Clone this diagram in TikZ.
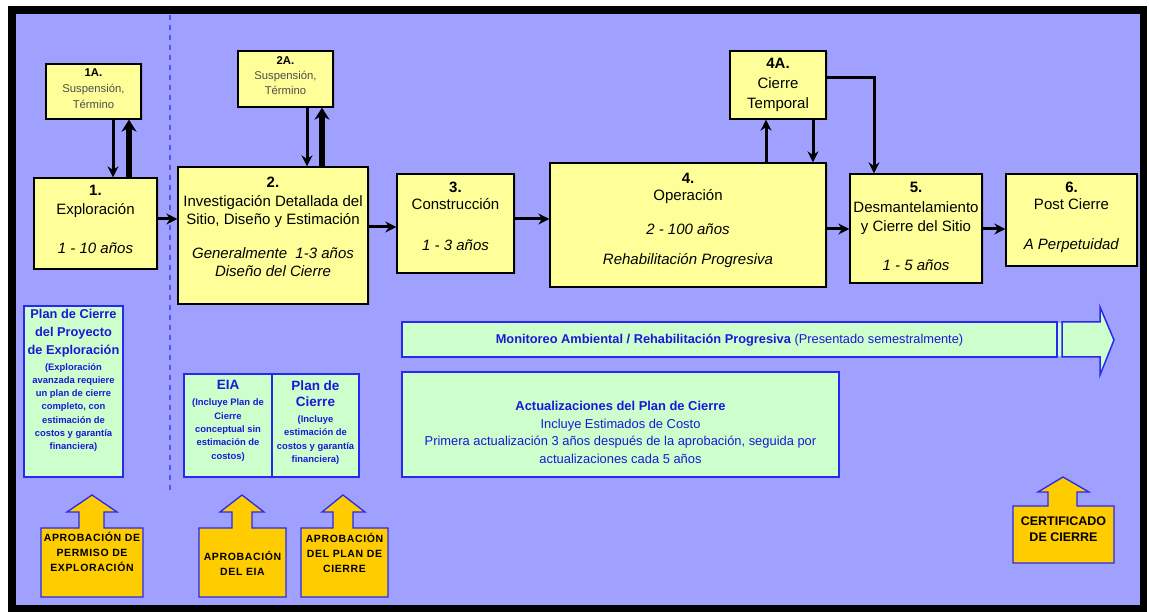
\documentclass[tikz,border=0pt]{standalone}
\usepackage{fontspec}
\setmainfont{Liberation Sans}
\usetikzlibrary{arrows.meta,shadows}
\definecolor{bg}{RGB}{160,160,255}
\definecolor{ylw}{RGB}{255,255,153}
\definecolor{grn}{RGB}{204,255,204}
\definecolor{org}{RGB}{255,204,0}
\definecolor{bblue}{RGB}{40,40,240}
\definecolor{tblue}{RGB}{25,25,215}
\definecolor{dotblue}{RGB}{85,85,235}
\begin{document}
\begin{tikzpicture}[x=1pt,y=-1pt,
  ybox/.style={draw=black,line width=1.3pt,fill=ylw,inner sep=0pt,
    drop shadow={shadow xshift=1.5pt,shadow yshift=-1.5pt,opacity=0.4}},
  gbox/.style={draw=bblue,line width=1.5pt,fill=grn,inner sep=0pt},
  txt/.style={inner sep=0pt,align=center},
  bigtxt/.style={txt,font=\fontsize{15}{19}\selectfont},
  smalltxt/.style={txt,text=black!70,font=\fontsize{11.3}{16}\selectfont},
  bluetitle/.style={txt,text=tblue,font=\fontsize{12.8}{17.5}\selectfont\bfseries},
  bluesmall/.style={txt,text=tblue,font=\fontsize{9.4}{13.3}\selectfont\bfseries},
  calltxt/.style={txt,font=\fontsize{10.5}{15}\selectfont\bfseries\addfontfeature{LetterSpace=6}},
  callshape/.style={draw=bblue,line width=1.3pt,fill=org,line join=miter},
  conn/.style={line width=3pt,-{Stealth[length=11pt,width=11pt]}},
  thk/.style={line width=5.5pt,-{Stealth[length=12pt,width=15pt]}}]
\useasboundingbox (0,0) rectangle (1149,612);
% frame and background
\fill[black] (8,6) rectangle (1147,612);
\fill[bg] (16,14) rectangle (1140,605);
\draw[dotblue,line width=2pt,dash pattern=on 5pt off 5pt] (170,15) -- (170,490);

% yellow stage boxes
\node[ybox,minimum width=123,minimum height=91] (b1) at (95.5,223.5) {};
\node[ybox,minimum width=190,minimum height=137] (b2) at (273,235.5) {};
\node[ybox,minimum width=117,minimum height=99] (b3) at (455.5,223.5) {};
\node[ybox,minimum width=276,minimum height=124] (b4) at (688,225) {};
\node[ybox,minimum width=132,minimum height=109] (b5) at (916,228.5) {};
\node[ybox,minimum width=131,minimum height=92] (b6) at (1071.5,220) {};
\node[ybox,minimum width=95,minimum height=55] (b1a) at (93.5,91.5) {};
\node[ybox,minimum width=95,minimum height=56] (b2a) at (285.5,79) {};
\node[ybox,minimum width=96,minimum height=68] (b4a) at (778,85) {};

\node[bigtxt] (t1) at (95.5,219.5) {\textbf{1.}\\Exploración\\[20pt]\textit{1 - 10 años}};
\node[bigtxt,font=\fontsize{15}{18.5}\selectfont] (t2) at (273,227) {\textbf{2.}\\Investigación Detallada del\\Sitio, Diseño y Estimación\\[15pt]\textit{Generalmente\ \ 1-3 años}\\\textit{Diseño del Cierre}};
\node[bigtxt,font=\fontsize{15}{17}\selectfont] (t3) at (455.5,216.5) {\textbf{3.}\\Construcción\\[24pt]\textit{1 - 3 años}};
\node[bigtxt,font=\fontsize{15}{17}\selectfont] (t4) at (688,220.5) {\textbf{4.}\\Operación\\[17pt]\textit{2 - 100 años}\\[13pt]\textit{Rehabilitación Progresiva}};
\node[bigtxt,font=\fontsize{15}{19.5}\selectfont] (t5) at (916,226.5) {\textbf{5.}\\Desmantelamiento\\y Cierre del Sitio\\[19pt]\textit{1 - 5 años}};
\node[bigtxt,font=\fontsize{15}{17}\selectfont] (t6) at (1071.5,217.5) {\textbf{6.}\\Post Cierre\\[23pt]\textit{A Perpetuidad}};
\node[bigtxt,font=\fontsize{15}{20}\selectfont] (t4a) at (778,84.5) {\textbf{4A.}\\Cierre\\Temporal};
\node[smalltxt] (t1a) at (93.5,89) {\textcolor{black}{\textbf{1A.}}\\Suspensión,\\Término};
\node[smalltxt,font=\fontsize{11.3}{15}\selectfont] (t2a) at (285.5,76) {\textcolor{black}{\textbf{2A.}}\\Suspensión,\\Término};

% connectors
\draw[conn] (b1.east |- 0,219) -- (b2.west |- 0,219);
\draw[conn] (b2.east |- 0,227) -- (b3.west |- 0,227);
\draw[conn] (b3.east |- 0,219) -- (b4.west |- 0,219);
\draw[conn] (b4.east |- 0,229) -- (b5.west |- 0,229);
\draw[conn] (b5.east |- 0,229) -- (b6.west |- 0,229);
\draw[conn] (b1a.south -| 113,0) -- (b1.north -| 113,0);
\draw[thk] (b1.north -| 129,0) -- (b1a.south -| 129,0);
\draw[conn] (b2a.south -| 307,0) -- (b2.north -| 307,0);
\draw[thk] (b2.north -| 322,0) -- (b2a.south -| 322,0);
\draw[conn] (b4.north -| 766,0) -- (b4a.south -| 766,0);
\draw[conn] (b4a.south -| 813,0) -- (b4.north -| 813,0);
\draw[conn] (b4a.east |- 0,78) -| (b5.north -| 874,0);

% green boxes
\node[gbox,minimum width=99,minimum height=171] (pexp) at (73.5,391.5) {};
\node[bluetitle,font=\fontsize{12.8}{18}\selectfont\bfseries] (pexpt) at (73.5,333) {Plan de Cierre\\del Proyecto\\de Exploración};
\node[bluesmall] (pexps) at (73.5,407.5) {(Exploración\\avanzada requiere\\un plan de cierre\\completo, con\\estimación de\\costos y garantía\\financiera)};

\node[gbox,minimum width=88,minimum height=103] (eia) at (228,425.5) {};
\node[gbox,minimum width=87,minimum height=103] (pc) at (315.5,425.5) {};
\node[bluetitle,font=\fontsize{13.5}{16}\selectfont\bfseries] (eiat) at (228,385) {EIA};
\node[bluesmall] (eias) at (228,430) {(Incluye Plan de\\Cierre\\conceptual sin\\estimación de\\costos)};
\node[bluetitle,font=\fontsize{13.5}{16}\selectfont\bfseries] (pct) at (315.5,394) {Plan de\\Cierre};
\node[bluesmall] (pcs) at (315.5,440) {(Incluye\\estimación de\\costos y garantía\\financiera)};

\node[gbox,minimum width=437,minimum height=105] (act) at (620.5,424.5) {};
\node[txt,text=tblue,font=\fontsize{12.9}{17.7}\selectfont] (actt) at (620.5,432.5) {\textbf{Actualizaciones del Plan de Cierre}\\Incluye Estimados de Costo\\Primera actualización 3 años después de la aprobación, seguida por\\actualizaciones cada 5 años};

% monitoring arrow
\fill[grn] (1057,323) rectangle (1063,356);
\draw[bblue,fill=grn,line width=1.5pt,line join=miter] (1062,322) -- (1100,322) -- (1100,307) -- (1114,340) -- (1100,375) -- (1100,357) -- (1062,357) -- cycle;
\node[gbox,line width=2.4pt,minimum width=655,minimum height=35] (mon) at (729.5,339.5) {};
\node[txt,text=tblue,font=\fontsize{12.8}{14}\selectfont] (mont) at (729.5,340) {\textbf{Monitoreo Ambiental / Rehabilitación Progresiva} (Presentado semestralmente)};

% approval callouts
\draw[callshape] (41,528) -- (79,528) -- (79,512) -- (67,512) -- (92,495) -- (117,512) -- (104,512) -- (104,528) -- (143,528) -- (143,597) -- (41,597) -- cycle;
\node[calltxt] (c1) at (92,552) {APROBACIÓN DE\\PERMISO DE\\EXPLORACIÓN};
\draw[callshape] (199,528) -- (232,528) -- (232,512) -- (220,512) -- (242,495) -- (264,512) -- (252,512) -- (252,528) -- (286,528) -- (286,597) -- (199,597) -- cycle;
\node[calltxt] (c2) at (242.5,563) {APROBACIÓN\\DEL EIA};
\draw[callshape] (301,528) -- (333,528) -- (333,512) -- (322,512) -- (343,495) -- (365,512) -- (353,512) -- (353,528) -- (388,528) -- (388,597) -- (301,597) -- cycle;
\node[calltxt] (c3) at (344.5,552.5) {APROBACIÓN\\DEL PLAN DE\\CIERRE};
\draw[callshape] (1013,506) -- (1048,506) -- (1048,492) -- (1038,492) -- (1063,477) -- (1089,492) -- (1077,492) -- (1077,506) -- (1114,506) -- (1114,563) -- (1013,563) -- cycle;
\node[calltxt,font=\fontsize{12.5}{16}\selectfont\bfseries] (c4) at (1063.5,529) {CERTIFICADO\\DE CIERRE};
\end{tikzpicture}
\end{document}
